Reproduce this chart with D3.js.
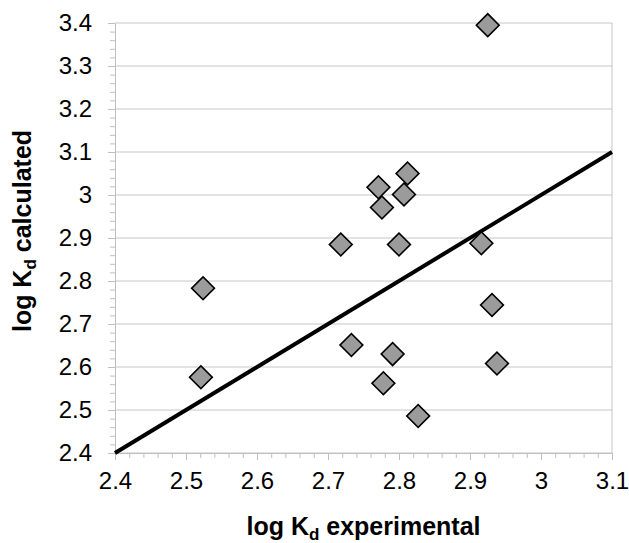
<!DOCTYPE html>
<html>
<head>
<meta charset="utf-8">
<script src="https://cdn.jsdelivr.net/npm/d3@7"></script>
<style>
  body { margin: 0; background: #fff; }
  svg { display: block; font-family: "Liberation Sans", Arial, sans-serif; }
  .axis path, .axis line { stroke: #bfbfbf; }
  .axis text { fill: #000; font-size: 24px; }
</style>
</head>
<body>
<div id="chart"></div>
<script>
// log Kd experimental vs calculated
var expValues  = [2.925, 2.812, 2.771, 2.807, 2.776, 2.718, 2.800, 2.916, 2.524, 2.931, 2.733, 2.791, 2.938, 2.521, 2.778, 2.827];
var calcValues = [3.395, 3.050, 3.018, 3.001, 2.971, 2.885, 2.885, 2.888, 2.783, 2.744, 2.651, 2.630, 2.608, 2.576, 2.562, 2.486];
var xTicks = [2.4, 2.5, 2.6, 2.7, 2.8, 2.9, 3.0, 3.1];
var yTicks = [2.4, 2.5, 2.6, 2.7, 2.8, 2.9, 3.0, 3.1, 3.2, 3.3, 3.4];
var lineEnds = [2.4, 3.1]; // y = x reference line

var margin = {top: 23, right: 17, bottom: 90, left: 115},
    width = 629 - margin.left - margin.right,
    height = 543 - margin.top - margin.bottom;

var x = d3.scaleLinear().domain([2.4, 3.1]).range([0, width]);
var y = d3.scaleLinear().domain([2.4, 3.4]).range([height, 0]);

var svg = d3.select("#chart").append("svg")
    .attr("width", 629)
    .attr("height", 543)
  .append("g")
    .attr("transform", "translate(" + margin.left + "," + margin.top + ")");

// gridlines
svg.append("g")
  .selectAll("line")
  .data(yTicks)
  .enter().append("line")
    .attr("x1", 0).attr("x2", width)
    .attr("y1", function(d){ return y(d); })
    .attr("y2", function(d){ return y(d); })
    .style("stroke", "#c6c6c6");

// right border
svg.append("line")
    .attr("x1", width).attr("x2", width)
    .attr("y1", 0).attr("y2", height)
    .style("stroke", "#c6c6c6");

// minor ticks
var minorX = d3.range(0, 36).map(function(i){ return 2.4 + i * 0.02; });
var minorY = d3.range(0, 51).map(function(i){ return 2.4 + i * 0.02; });

svg.append("g")
    .attr("class", "axis")
    .attr("transform", "translate(0," + height + ")")
    .call(d3.axisBottom(x).tickValues(minorX).tickSize(5).tickFormat(""))
    .call(function(g){ g.select(".domain").remove(); });

svg.append("g")
    .attr("class", "axis")
    .call(d3.axisLeft(y).tickValues(minorY).tickSize(5).tickFormat(""))
    .call(function(g){ g.select(".domain").remove(); });

// major axes
svg.append("g")
    .attr("class", "axis")
    .attr("transform", "translate(0," + height + ")")
    .call(d3.axisBottom(x).tickValues(xTicks).tickSize(7).tickSizeOuter(0).tickPadding(12)
      .tickFormat(function(d){ return d3.format("")(+d.toFixed(1)); }))
    .selectAll("text").attr("dy", "0.71em");

svg.append("g")
    .attr("class", "axis")
    .call(d3.axisLeft(y).tickValues(yTicks).tickSize(7).tickSizeOuter(0).tickPadding(16)
      .tickFormat(function(d){ return d3.format("")(+d.toFixed(1)); }));

// y = x line
svg.append("line")
    .attr("x1", x(lineEnds[0])).attr("y1", y(lineEnds[0]))
    .attr("x2", x(lineEnds[1])).attr("y2", y(lineEnds[1]))
    .style("stroke", "#000")
    .style("stroke-width", 4);

// points
var diamond = d3.symbol().type(d3.symbolSquare).size(260);
svg.selectAll(".pt")
    .data(expValues)
  .enter().append("path")
    .attr("class", "pt")
    .attr("d", diamond)
    .attr("transform", function(d, i){
      return "translate(" + x(d) + "," + y(calcValues[i]) + ") rotate(45)";
    })
    .style("fill", "#9b9b9b")
    .style("stroke", "#000")
    .style("stroke-width", 1.6);

// axis titles
var xTitle = svg.append("text")
    .attr("x", width / 2)
    .attr("y", height + 82)
    .attr("text-anchor", "middle")
    .style("font-size", "25px")
    .style("font-weight", "bold");
xTitle.append("tspan").text("log K");
xTitle.append("tspan").attr("dy", 5).style("font-size", "17px").text("d");
xTitle.append("tspan").attr("dy", -5).text(" experimental");

var yTitle = svg.append("text")
    .attr("transform", "translate(" + (31 - margin.left) + "," + (231 - margin.top) + ") rotate(-90)")
    .attr("text-anchor", "middle")
    .style("font-size", "25px")
    .style("font-weight", "bold");
yTitle.append("tspan").text("log K");
yTitle.append("tspan").attr("dy", 5).style("font-size", "17px").text("d");
yTitle.append("tspan").attr("dy", -5).text(" calculated");
</script>
</body>
</html>
